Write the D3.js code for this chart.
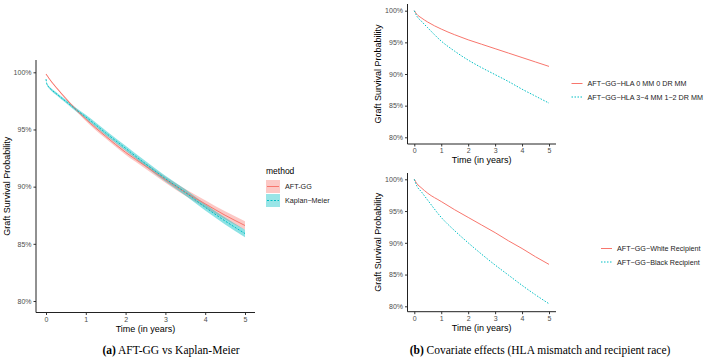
<!DOCTYPE html>
<html>
<head>
<meta charset="utf-8">
<script src="https://cdn.jsdelivr.net/npm/d3@7"></script>
<style>
  body { margin: 0; background: #fff; }
  svg { font-family: "Liberation Sans", Arial, sans-serif; }
  .tick text { fill: #4d4d4d; font-size: 7px; }
  .tick line { stroke: #333; }
  .caption { font-family: "Liberation Serif", "Times New Roman", serif; font-size: 11.5px; }
</style>
</head>
<body>
<svg id="main_chart" width="709" height="358"></svg>
<script>
(function() {
  // PANEL (a): AFT-GG vs KAPLAN-MEIER
  const times_a = [0, 0.05, 0.1, 0.25, 0.5, 0.75, 1, 1.5, 2, 2.5, 3, 3.5, 4, 4.5, 5];
  const aft_est = [0.9985, 0.996, 0.9935, 0.987, 0.977, 0.9675, 0.959, 0.944, 0.930, 0.918, 0.906, 0.895, 0.885, 0.875, 0.866];
  const aft_halfwidth = [0.0005, 0.0006, 0.0007, 0.0008, 0.001, 0.0012, 0.0015, 0.002, 0.0022, 0.0024, 0.0026, 0.003, 0.0032, 0.0035, 0.0038];
  const km_times = [0, 0.02, 0.05, 0.1, 0.25, 0.5, 0.75, 1, 1.5, 2, 2.5, 3, 3.5, 4, 4.5, 5];
  const km_est = [0.994, 0.990, 0.988, 0.986, 0.9815, 0.9745, 0.9675, 0.961, 0.947, 0.9335, 0.920, 0.907, 0.895, 0.882, 0.870, 0.859];
  const km_halfwidth = [0.0005, 0.0006, 0.0008, 0.001, 0.0012, 0.0014, 0.0016, 0.0018, 0.002, 0.0022, 0.0024, 0.0026, 0.0027, 0.0028, 0.003, 0.0032];

  // PANEL (b): COVARIATE EFFECTS
  const times_b = [0, 0.1, 0.25, 0.5, 1, 1.5, 2, 2.5, 3, 3.5, 4, 4.5, 5];
  const hla0_est = [1.000, 0.994, 0.989, 0.982, 0.971, 0.962, 0.954, 0.947, 0.940, 0.933, 0.926, 0.919, 0.912];
  const hla34_est = [1.000, 0.991, 0.984, 0.973, 0.952, 0.936, 0.922, 0.910, 0.899, 0.888, 0.876, 0.865, 0.854];
  const white_est = [1.000, 0.993, 0.987, 0.978, 0.965, 0.952, 0.940, 0.928, 0.916, 0.903, 0.891, 0.878, 0.866];
  const black_est = [1.000, 0.989, 0.981, 0.967, 0.940, 0.919, 0.900, 0.882, 0.865, 0.849, 0.833, 0.818, 0.804];

  const year_ticks = [0, 1, 2, 3, 4, 5];
  const pct_ticks = [0.8, 0.85, 0.9, 0.95, 1.0];

  const red = '#F8766D';
  const teal = '#00BFC4';
  const svg = d3.select('#main_chart');

  function drawPanel(opts) {
    const g = svg.append('g');
    const xScale = d3.scaleLinear().domain([0, 5]).range(opts.xr);
    const yScale = d3.scaleLinear().domain([0.8, 1.0]).range(opts.yr);

    // AXES
    g.append('g').attr('transform', `translate(0,${opts.axisY})`)
      .call(d3.axisBottom(xScale).tickValues(year_ticks).tickFormat(d3.format('d')).tickSize(2.5).tickPadding(2))
      .call(a => a.select('.domain').remove());
    g.append('g').attr('transform', `translate(${opts.axisX},0)`)
      .call(d3.axisLeft(yScale).tickValues(pct_ticks).tickFormat(d3.format('.0%')).tickSize(2.5).tickPadding(2))
      .call(a => a.select('.domain').remove());
    g.append('line').attr('x1', opts.axisX).attr('x2', opts.axisX)
      .attr('y1', opts.top).attr('y2', opts.axisY).attr('stroke', '#222').attr('stroke-width', 1);
    g.append('line').attr('x1', opts.axisX).attr('x2', opts.right)
      .attr('y1', opts.axisY).attr('y2', opts.axisY).attr('stroke', '#222').attr('stroke-width', 1);

    // AXIS TITLES
    g.append('text').attr('x', (opts.xr[0] + opts.xr[1]) / 2).attr('y', opts.axisY + 19)
      .attr('text-anchor', 'middle').attr('font-size', 9).text('Time (in years)');
    g.append('text')
      .attr('transform', `translate(${opts.titleX},${(opts.top + opts.axisY) / 2}) rotate(-90)`)
      .attr('text-anchor', 'middle').attr('font-size', 9).text('Graft Survival Probability');

    return { g, xScale, yScale };
  }

  // ---- PANEL (a)
  const pa = drawPanel({ xr: [46, 245], yr: [301, 72.3], axisX: 36, axisY: 312.5, top: 60, right: 255, titleX: 10 });
  const ribbon = (ts, est, hw, p) => d3.area()
    .x((d, i) => p.xScale(ts[i]))
    .y0((d, i) => p.yScale(est[i] - hw[i]))
    .y1((d, i) => p.yScale(est[i] + hw[i]))
    .curve(d3.curveMonotoneX)(est);
  const line = (ts, est, p) => d3.line()
    .x((d, i) => p.xScale(ts[i]))
    .y(d => p.yScale(d))
    .curve(d3.curveMonotoneX)(est);

  pa.g.append('path').attr('d', ribbon(times_a, aft_est, aft_halfwidth, pa)).attr('fill', red).attr('opacity', 0.4);
  pa.g.append('path').attr('d', ribbon(km_times, km_est, km_halfwidth, pa)).attr('fill', teal).attr('opacity', 0.45);
  pa.g.append('path').attr('d', line(times_a, aft_est, pa)).attr('fill', 'none').attr('stroke', red).attr('stroke-width', 1);
  pa.g.append('path').attr('d', line(km_times, km_est, pa)).attr('fill', 'none').attr('stroke', teal)
    .attr('stroke-width', 1).attr('stroke-dasharray', '2,1.5');

  // LEGEND (a)
  const lg = svg.append('g').attr('transform', 'translate(266,164)');
  lg.append('text').attr('x', 0).attr('y', 10).attr('font-size', 8.5).text('method');
  [['AFT-GG', red, null], ['Kaplan\u2212Meier', teal, '2,1.5']].forEach((d, i) => {
    const y = 16 + i * 14;
    lg.append('rect').attr('x', 0).attr('y', y).attr('width', 14).attr('height', 13).attr('fill', d[1]).attr('opacity', 0.4);
    lg.append('line').attr('x1', 1).attr('x2', 13).attr('y1', y + 6.5).attr('y2', y + 6.5)
      .attr('stroke', d[1]).attr('stroke-width', 1).attr('stroke-dasharray', d[2]);
    lg.append('text').attr('x', 19).attr('y', y + 9.3).attr('font-size', 7.2).attr('fill', '#222').text(d[0]);
  });

  // ---- PANEL (b) TOP
  const pb1 = drawPanel({ xr: [414.3, 549], yr: [137.3, 10.7], axisX: 407.5, axisY: 144, top: 4, right: 556, titleX: 381 });
  pb1.g.append('path').attr('d', line(times_b, hla0_est, pb1)).attr('fill', 'none').attr('stroke', red).attr('stroke-width', 1);
  pb1.g.append('path').attr('d', line(times_b, hla34_est, pb1)).attr('fill', 'none').attr('stroke', teal)
    .attr('stroke-width', 1).attr('stroke-dasharray', '1.5,1.5');

  // ---- PANEL (b) BOTTOM
  const pb2 = drawPanel({ xr: [414.3, 549], yr: [306.3, 179.3], axisX: 407.5, axisY: 311.7, top: 173, right: 556, titleX: 381 });
  pb2.g.append('path').attr('d', line(times_b, white_est, pb2)).attr('fill', 'none').attr('stroke', red).attr('stroke-width', 1);
  pb2.g.append('path').attr('d', line(times_b, black_est, pb2)).attr('fill', 'none').attr('stroke', teal)
    .attr('stroke-width', 1).attr('stroke-dasharray', '1.5,1.5');

  function smallLegend(x, y, labels) {
    const lgb = svg.append('g').attr('transform', `translate(${x},${y})`);
    labels.forEach((d, i) => {
      const yy = i * 13.5;
      lgb.append('line').attr('x1', 0).attr('x2', 11).attr('y1', yy).attr('y2', yy)
        .attr('stroke', d[1]).attr('stroke-width', 1).attr('stroke-dasharray', d[2]);
      lgb.append('text').attr('x', 16).attr('y', yy + 2.6).attr('font-size', 7.2).attr('fill', '#222').text(d[0]);
    });
  }
  smallLegend(571.5, 83.5, [['AFT\u2212GG\u2212HLA 0 MM 0 DR MM', red, null], ['AFT\u2212GG\u2212HLA 3\u22124 MM 1\u22122 DR MM', teal, '1.5,1.5']]);
  smallLegend(601, 248.5, [['AFT\u2212GG\u2212White Recipient', red, null], ['AFT\u2212GG\u2212Black Recipient', teal, '1.5,1.5']]);

  // CAPTIONS
  const capA = svg.append('text').attr('class', 'caption').attr('x', 171).attr('y', 354).attr('text-anchor', 'middle');
  capA.append('tspan').attr('font-weight', 'bold').text('(a)');
  capA.append('tspan').text(' AFT-GG vs Kaplan-Meier');
  const capB = svg.append('text').attr('class', 'caption').attr('x', 540).attr('y', 354).attr('text-anchor', 'middle');
  capB.append('tspan').attr('font-weight', 'bold').text('(b)');
  capB.append('tspan').text(' Covariate effects (HLA mismatch and recipient race)');
})();
</script>
</body>
</html>
